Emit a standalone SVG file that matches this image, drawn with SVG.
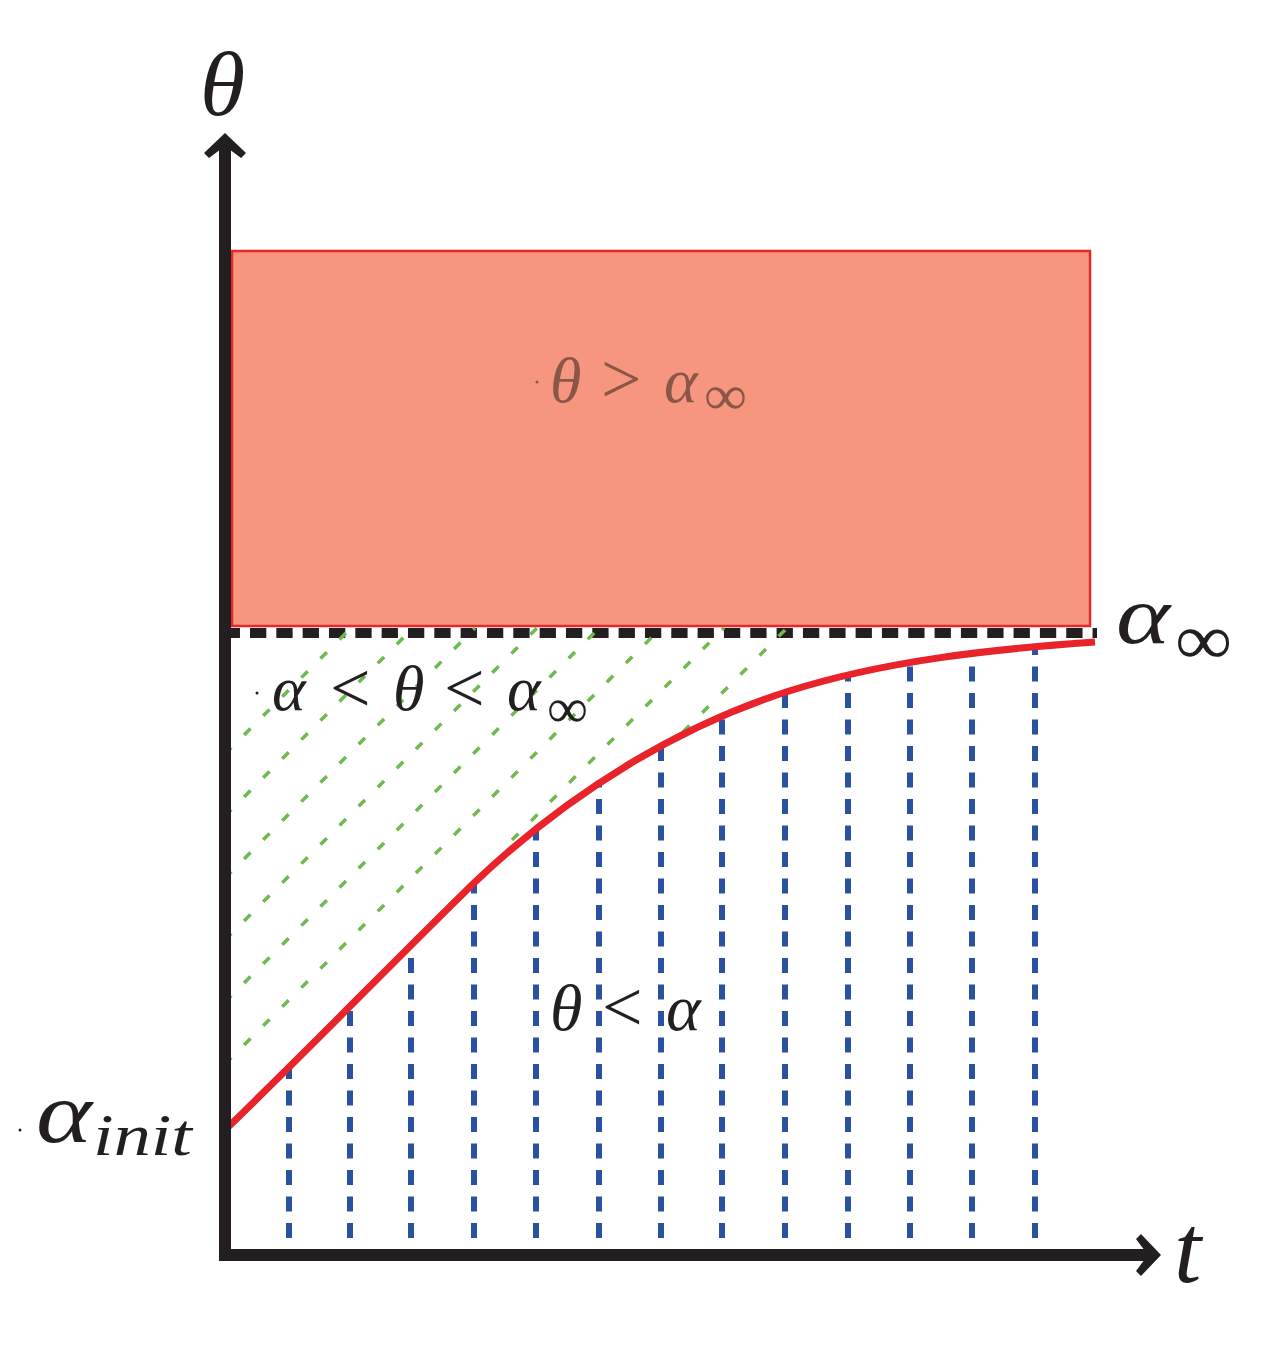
<svg xmlns="http://www.w3.org/2000/svg" width="1283" height="1364" viewBox="0 0 1283 1364">
<style>
.m{font-family:"Liberation Serif","DejaVu Serif",serif;fill:#231F20}
.i{font-style:italic}
.in{fill:#8A5646}
.rel{font-size:72px}
.grn{stroke:#6DBB4F;stroke-width:3.5;stroke-dasharray:9 18;fill:none}
.blu{stroke:#2A52A0;stroke-width:6;stroke-dasharray:15 11.5;fill:none}
.ax{stroke:#231F20;stroke-width:12;fill:none}
</style>
<defs>
<clipPath id="above">
<path d="M225,626 L1097,626 L1097,642 C995,649 886,660 786,692 C686,724 575,787 475,882 C400,955 310,1048 225,1130 Z"/>
</clipPath>
<clipPath id="below">
<path d="M225,1130 C310,1048 400,955 475,882 C575,787 686,724 786,692 C886,660 995,649 1095,642 L1095,1252 L225,1252 Z"/>
</clipPath>
</defs>
<rect width="1283" height="1364" fill="#FFFFFF"/>
<g id="region-high">
<rect x="232" y="251" width="858" height="375" fill="#F7967E" stroke="#E8272C" stroke-width="2.5"/>
</g>
<g id="asymptote">
<line x1="223.67" y1="633" x2="1097" y2="633" stroke="#231F20" stroke-width="10" stroke-dasharray="16.3 10.03"/>
</g>
<g id="hatch-green" clip-path="url(#above)">
<line class="grn" x1="225" y1="754" x2="351" y2="628"/>
<line class="grn" x1="225" y1="816" x2="413" y2="628"/>
<line class="grn" x1="225" y1="878" x2="475" y2="628"/>
<line class="grn" x1="225" y1="940" x2="537" y2="628"/>
<line class="grn" x1="225" y1="1002" x2="599" y2="628"/>
<line class="grn" x1="225" y1="1064" x2="661" y2="628"/>
<line class="grn" x1="512" y1="840" x2="724" y2="628"/>
<line class="grn" x1="225" y1="1190" x2="787" y2="628"/>
</g>
<g id="hatch-blue" clip-path="url(#below)">
<line class="blu" x1="289" y1="640" x2="289" y2="1252"/>
<line class="blu" x1="350" y1="640" x2="350" y2="1252"/>
<line class="blu" x1="411" y1="640" x2="411" y2="1252"/>
<line class="blu" x1="474" y1="640" x2="474" y2="1252"/>
<line class="blu" x1="536" y1="640" x2="536" y2="1252"/>
<line class="blu" x1="599" y1="640" x2="599" y2="1252"/>
<line class="blu" x1="661" y1="640" x2="661" y2="1252"/>
<line class="blu" x1="722" y1="640" x2="722" y2="1252"/>
<line class="blu" x1="785" y1="640" x2="785" y2="1252"/>
<line class="blu" x1="848" y1="640" x2="848" y2="1252"/>
<line class="blu" x1="910" y1="640" x2="910" y2="1252"/>
<line class="blu" x1="972" y1="640" x2="972" y2="1252"/>
<line class="blu" x1="1035" y1="640" x2="1035" y2="1252"/>
</g>
<g id="curve-alpha">
<path d="M225,1130 C310,1048 400,955 475,882 C575,787 686,724 786,692 C886,660 995,649 1095,642" fill="none" stroke="#E8232A" stroke-width="7"/>
</g>
<g id="axes">
<line class="ax" x1="225" y1="146" x2="225" y2="1261"/>
<path d="M225,133 L246,153 L241,158 L225,146 L209,158 L204,153 Z" fill="#231F20"/>
<line class="ax" x1="219" y1="1255" x2="1148" y2="1255"/>
<path d="M1161,1255 L1141,1234 L1136,1239 L1148,1255 L1136,1271 L1141,1276 Z" fill="#231F20"/>
</g>
<g id="labels">
<text class="m i" x="200" y="115" font-size="92">θ</text>
<text class="m i" x="1174" y="1282" font-size="98">t</text>
<circle cx="537" cy="382" r="1.5" fill="#8A5646"/>
<text class="m in" y="402" font-size="64"><tspan x="550" font-style="italic">θ</tspan><tspan x="601" y="403" class="rel">&gt;</tspan><tspan x="664" y="402" font-style="italic">α</tspan></text>
<text class="m in" x="704" y="414" font-size="56" textLength="43" lengthAdjust="spacingAndGlyphs">∞</text>
<circle cx="257" cy="693" r="1.5" fill="#231F20"/>
<text class="m" y="710" font-size="64"><tspan x="272" font-style="italic">α</tspan><tspan x="330" y="712" class="rel">&lt;</tspan><tspan x="393" y="710" font-style="italic">θ</tspan><tspan x="444" y="712" class="rel">&lt;</tspan><tspan x="507" y="710" font-style="italic">α</tspan></text>
<text class="m" x="547" y="727" font-size="56" textLength="41" lengthAdjust="spacingAndGlyphs">∞</text>
<text class="m" y="1030" font-size="66"><tspan x="550" font-style="italic">θ</tspan><tspan x="602" y="1031" class="rel">&lt;</tspan><tspan x="666" y="1030" font-style="italic">α</tspan></text>
<text class="m i" x="1116" y="643" font-size="82" textLength="54" lengthAdjust="spacingAndGlyphs">α</text>
<text class="m" x="1175" y="664" font-size="72" textLength="57" lengthAdjust="spacingAndGlyphs">∞</text>
<circle cx="20" cy="1130" r="1.5" fill="#231F20"/>
<text class="m i" x="36" y="1142" font-size="86" textLength="56" lengthAdjust="spacingAndGlyphs">α</text>
<text class="m i" x="93" y="1155" font-size="60" textLength="99" lengthAdjust="spacingAndGlyphs">init</text>
</g>
</svg>
